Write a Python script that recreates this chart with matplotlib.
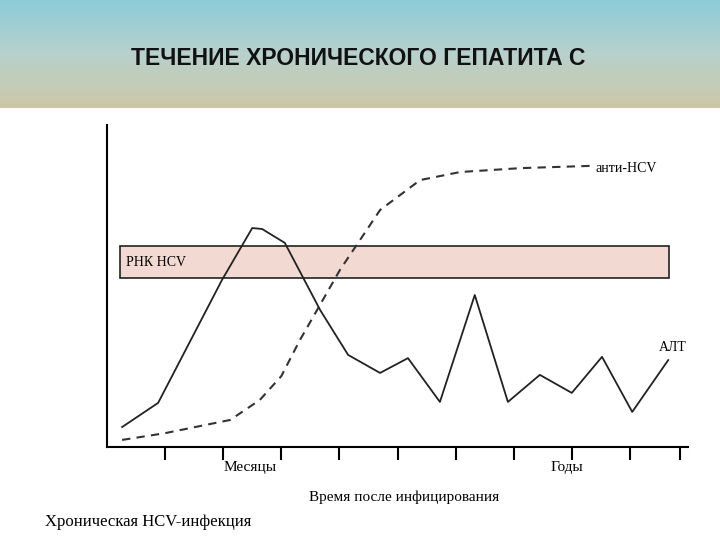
import matplotlib
matplotlib.use("Agg")
import matplotlib.pyplot as plt
import numpy as np
from matplotlib.patches import Rectangle

alt_x = [2.6, 8.8, 19.8, 25, 26.7, 30.6, 36.7, 41.5, 47, 51.8, 57.3, 63.3, 69, 74.5, 80, 85.2, 90.4, 96.6]
alt_y = [6.2, 13.7, 51.9, 68, 67.7, 63.4, 42.5, 28.6, 23, 27.6, 14, 47.2, 14, 22.4, 16.8, 28, 10.9, 27]
anti_x = [2.6, 10, 21.2, 26.3, 30, 33.2, 40.1, 47, 53.9, 60.8, 71.1, 83.1]
anti_y = [2.2, 4.3, 8.4, 14.6, 22, 33.2, 55, 73.6, 82.9, 85.4, 86.6, 87.3]
ticks = [10, 20, 30, 40, 50, 60, 70, 80, 90, 98.6]

fig = plt.figure(figsize=(7.2, 5.4), dpi=100)
hb = fig.add_axes([0, 1 - 108/540, 1, 108/540])
grad = np.linspace(0, 1, 100)
cols = np.array([[0.55, 0.80, 0.85], [0.72, 0.82, 0.80], [0.80, 0.78, 0.65]])
img = np.zeros((100, 1, 3))
for i, t in enumerate(grad):
    if t < 0.5:
        img[i, 0] = cols[0] * (1 - 2*t) + cols[1] * 2*t
    else:
        img[i, 0] = cols[1] * (2 - 2*t) + cols[2] * (2*t - 1)
hb.imshow(img, aspect='auto', extent=[0, 1, 0, 1])
hb.axis('off')
hb.text(0.497, 0.46, "ТЕЧЕНИЕ ХРОНИЧЕСКОГО ГЕПАТИТА С", ha='center', va='center',
        fontsize=16.5, fontweight='bold', family='Liberation Sans', color='#111111')

ax = fig.add_axes([107/720, 1 - 447/540, 581/720, 322/540])
ax.set_xlim(0, 100)
ax.set_ylim(0, 100)
for s in ['top', 'right']:
    ax.spines[s].set_visible(False)
ax.spines['left'].set_linewidth(1.5)
ax.spines['bottom'].set_linewidth(1.5)
ax.set_yticks([])
ax.set_xticks(ticks)
ax.set_xticklabels([])
ax.tick_params(axis='x', direction='out', length=9, width=1.5)

ax.add_patch(Rectangle((2.2, 52.5), 94.6, 9.9, facecolor='#f2d9d2', edgecolor='#222222', lw=1.2))
ax.text(3.2, 57.4, "РНК HCV", va='center', fontsize=10, family='Liberation Serif')
ax.plot(alt_x, alt_y, color='#222222', lw=1.3)
ax.plot(anti_x, anti_y, color='#333333', lw=1.5, ls=(0, (4, 3)))
ax.text(84, 86.5, "анти-HCV", va='center', fontsize=10, family='Liberation Serif')
ax.text(95, 31, "АЛТ", va='center', fontsize=10, family='Liberation Serif')

fig.text(250/720, 1 - 468/540, "Месяцы", ha='center', va='center', fontsize=11, family='Liberation Serif')
fig.text(567/720, 1 - 468/540, "Годы", ha='center', va='center', fontsize=11, family='Liberation Serif')
fig.text(404/720, 1 - 497/540, "Время после инфицирования", ha='center', va='center', fontsize=11, family='Liberation Serif')
fig.text(148/720, 1 - 522/540, "Хроническая HCV-инфекция", ha='center', va='center', fontsize=12, family='Liberation Serif')

fig.savefig("out.png", dpi=100)
